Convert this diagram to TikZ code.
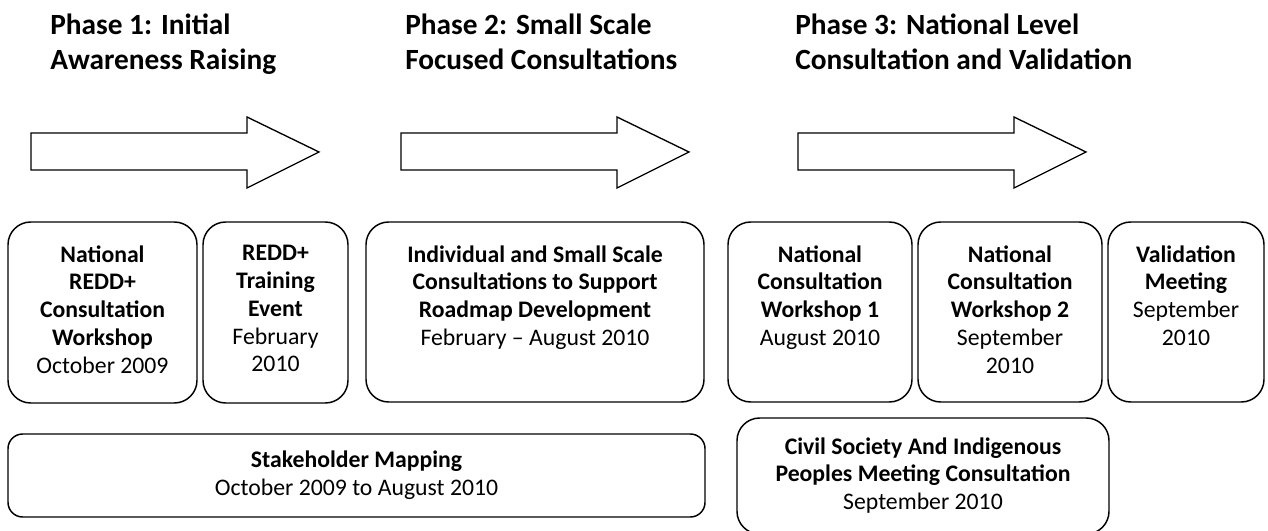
\documentclass[tikz,border=0pt]{standalone}
\usepackage{fontspec}
\setmainfont{Carlito}
\usetikzlibrary{positioning}
\tikzset{
  phasebox/.style={draw, line width=1.1pt, rounded corners=17pt, inner sep=0pt},
  boxsize/.style 2 args={minimum width=#1*0.75pt, minimum height=#2*0.75pt},
  boxtext/.style={align=center, inner sep=0pt, font=\fontsize{17.8}{20.8}\selectfont},
  heading/.style={align=left, anchor=north west, inner sep=0pt,
    font=\fontsize{22}{26.2}\selectfont\bfseries},
  bigarrow/.style={draw, line width=1pt, fill=white, line join=miter}
}

\begin{document}
\begin{tikzpicture}[x=0.75pt, y=-0.75pt]
  \useasboundingbox (0,0) rectangle (1268,531);

  % === Phase headings ===
  \node[heading] (head1) at (50,14)  {Phase 1: Initial\\Awareness Raising};
  \node[heading] (head2) at (405,14) {Phase 2: Small Scale\\Focused Consultations};
  \node[heading] (head3) at (795,14) {Phase 3: National Level\\Consultation and Validation};

  % === Phase arrows ===
  \newcommand{\phasearrow}[1]{
    \draw[bigarrow] (#1,133) -- ++(216,0) -- ++(0,-16) -- ++(72,35)
      -- ++(-72,36) -- ++(0,-18) -- ++(-216,0) -- cycle;}
  \phasearrow{31}
  \phasearrow{401}
  \phasearrow{798}

  % === Events, top row ===
  \node[phasebox, boxsize={189}{181}] (natws) at (102.5,312.5) {};
  \node[phasebox, boxsize={145}{181}] (training) at (275.5,312.5) {};
  \node[phasebox, boxsize={338}{180}] (smallscale) at (535,312) {};
  \node[phasebox, boxsize={184}{180}] (natws1) at (820,312) {};
  \node[phasebox, boxsize={184}{180}] (natws2) at (1010,312) {};
  \node[phasebox, boxsize={156}{180}] (validation) at (1186,312) {};

  \node[boxtext, below=18pt of natws.north] (natwstext)
    {\textbf{National}\\\textbf{REDD+}\\\textbf{Consultation}\\\textbf{Workshop}\\October 2009};
  \node[boxtext, below=18pt of training.north] (trainingtext)
    {\textbf{REDD+}\\\textbf{Training}\\\textbf{Event}\\February\\2010};
  \node[boxtext, below=18pt of smallscale.north] (smallscaletext)
    {\textbf{Individual and Small Scale}\\\textbf{Consultations to Support}\\\textbf{Roadmap Development}\\February -- August 2010};
  \node[boxtext, below=18pt of natws1.north] (natws1text)
    {\textbf{National}\\\textbf{Consultation}\\\textbf{Workshop 1}\\August 2010};
  \node[boxtext, below=18pt of natws2.north] (natws2text)
    {\textbf{National}\\\textbf{Consultation}\\\textbf{Workshop 2}\\September\\2010};
  \node[boxtext, below=18pt of validation.north] (validationtext)
    {\textbf{Validation}\\\textbf{Meeting}\\September\\2010};

  % === Events, bottom row ===
  \node[phasebox, rounded corners=11pt, boxsize={697}{83}] (stakemap) at (356.5,475.5) {};
  \node[boxtext] (stakemaptext) at (stakemap) {\textbf{Stakeholder Mapping}\\October 2009 to August 2010};

  \node[phasebox, boxsize={372}{116}] (civil) at (923,476) {};
  \node[boxtext, below=15pt of civil.north] (civiltext)
    {\textbf{Civil Society And Indigenous}\\\textbf{Peoples Meeting Consultation}\\September 2010};
\end{tikzpicture}
\end{document}
